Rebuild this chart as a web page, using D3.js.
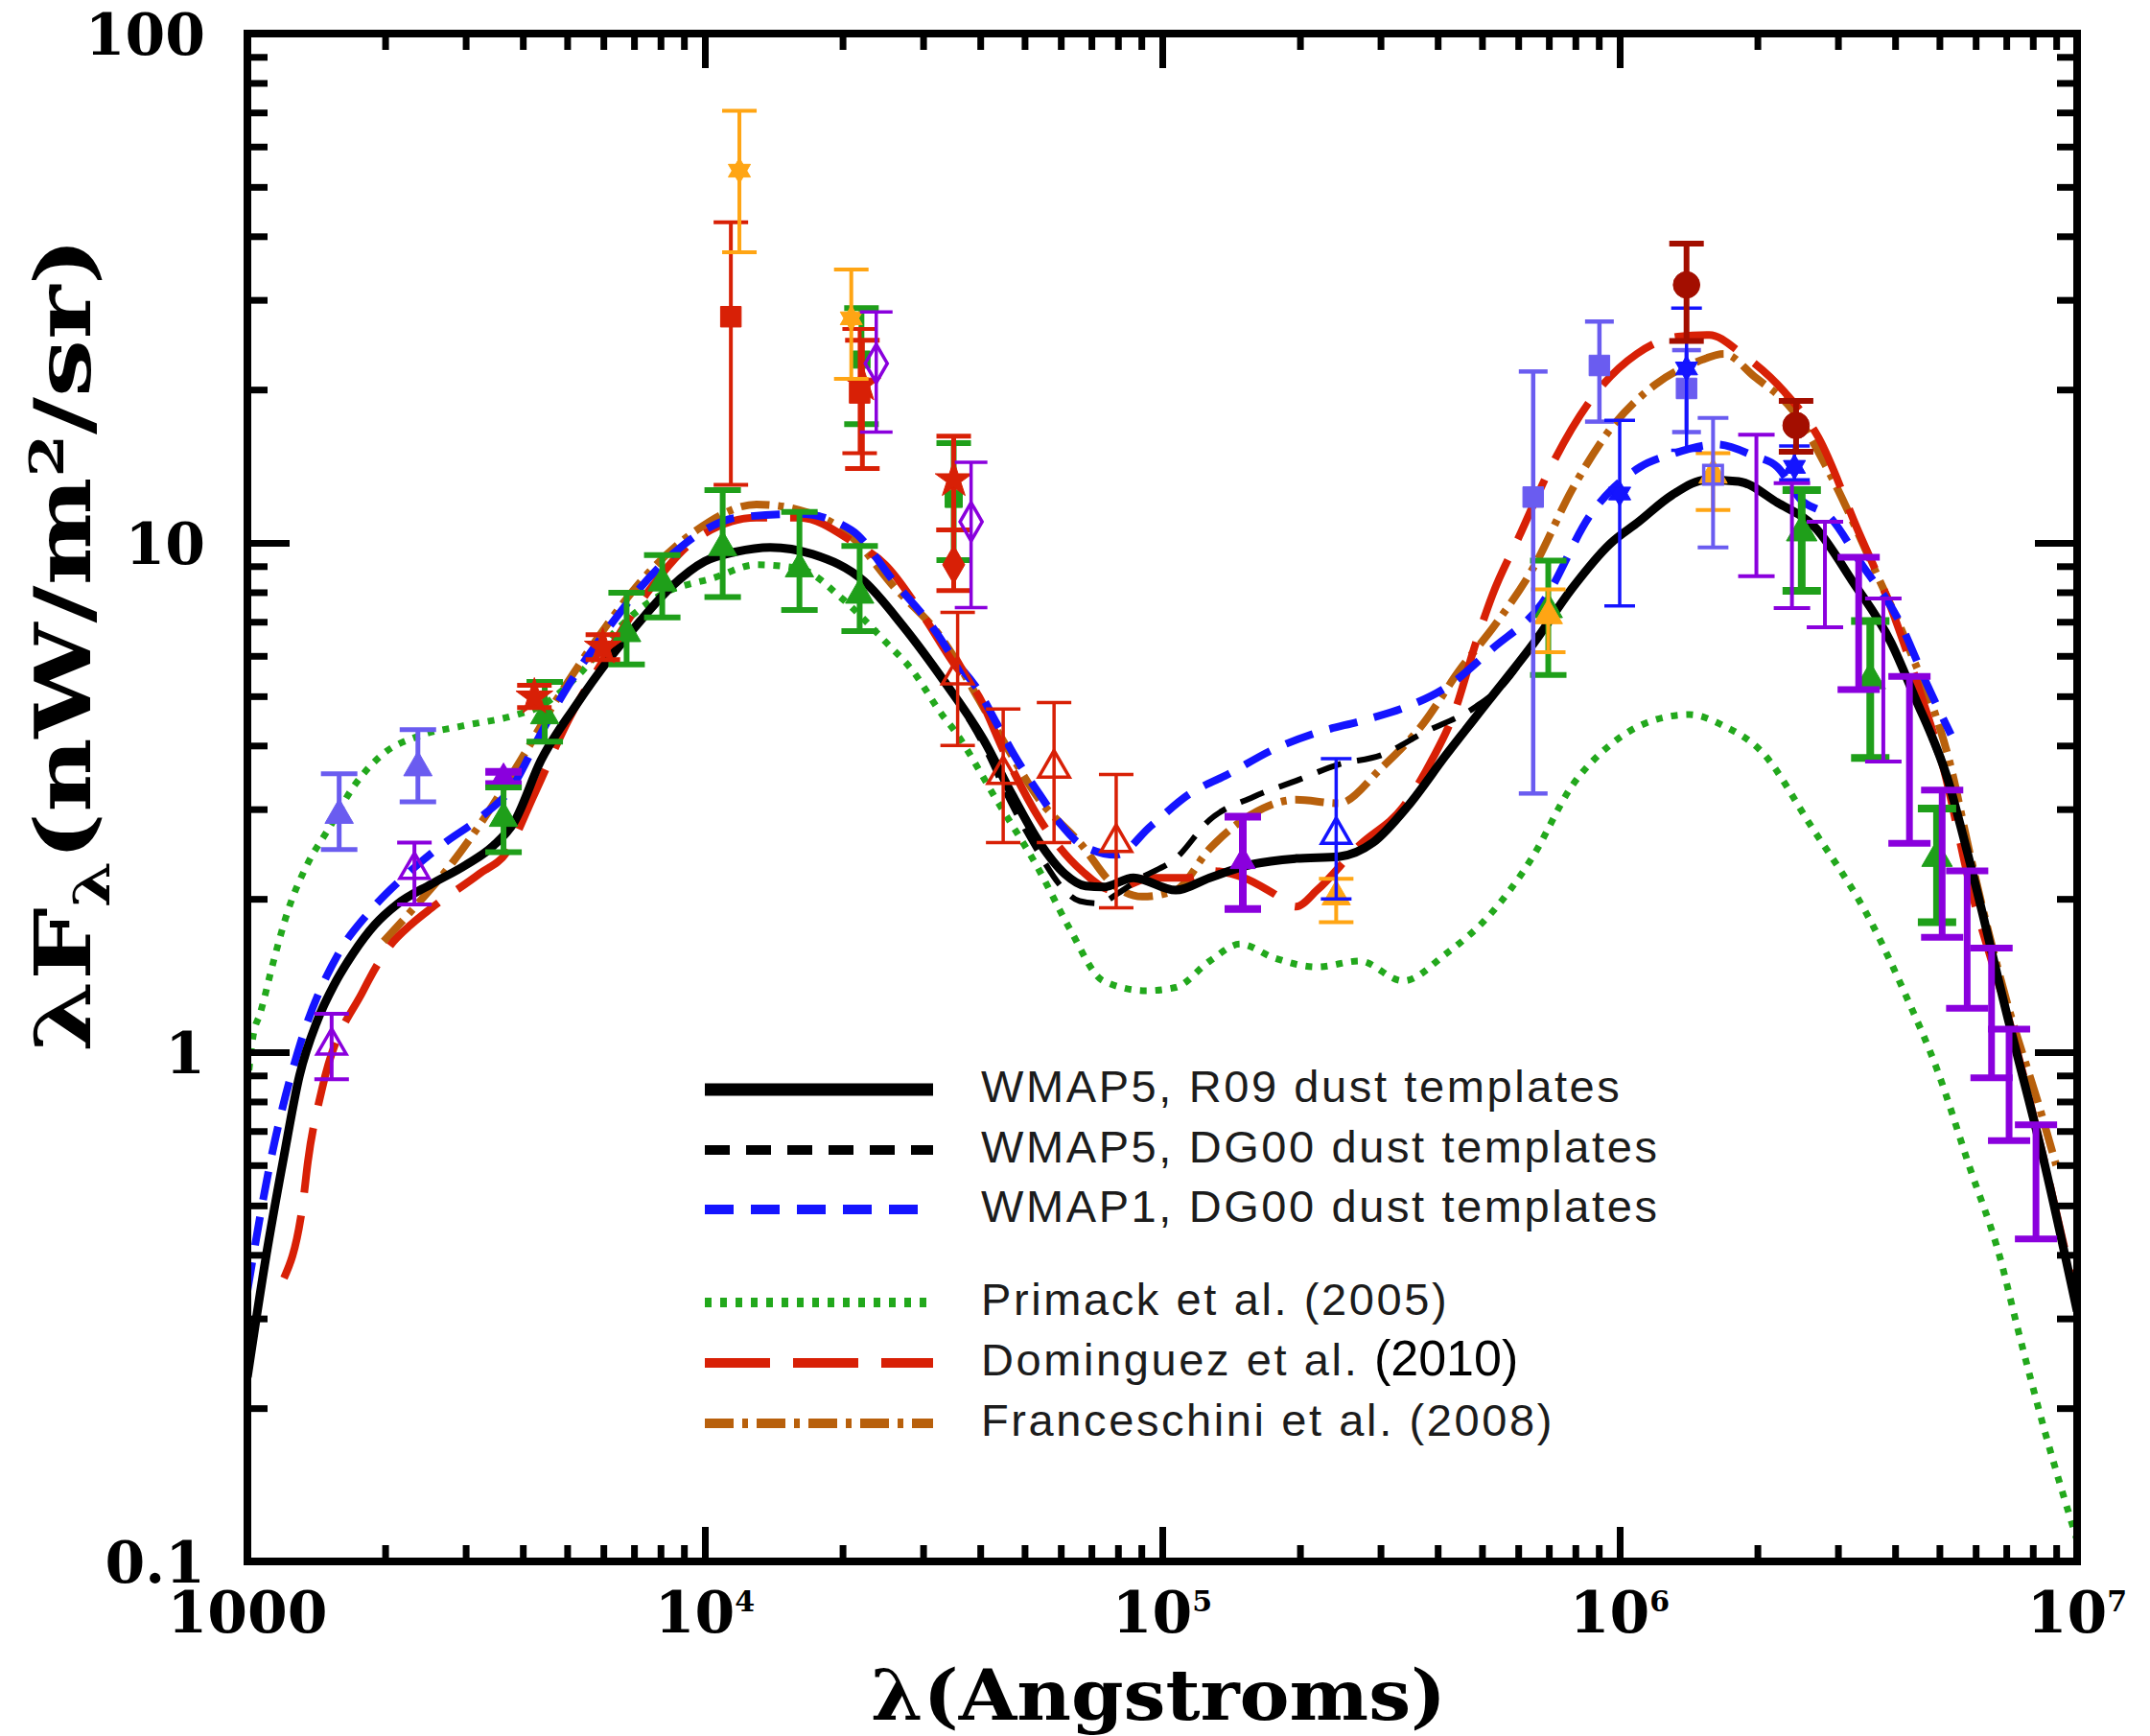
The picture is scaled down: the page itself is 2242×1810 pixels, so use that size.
<!DOCTYPE html>
<html><head><meta charset="utf-8">
<script src="https://cdn.jsdelivr.net/npm/d3@7"></script>
<style>body{margin:0;background:#fff} svg{display:block}</style>
</head><body>
<svg id="c" width="2242" height="1810"></svg>
<script>
// ---------------- DATA ----------------
const X_MAJOR = [1000, 1e4, 1e5, 1e6, 1e7];
const X_LABELS = [["1000",""],["10","4"],["10","5"],["10","6"],["10","7"]];
const Y_MAJOR = [0.1, 1, 10, 100];
const Y_LABELS = ["0.1","1","10","100"];

// model curves: [lambda (Angstrom), lambda*F_lambda (nW/m^2/sr)]
const wmap5R09 = [[1000,0.23],[1100,0.40],[1200,0.62],[1300,0.90],[1420,1.15],[1550,1.36],[1700,1.56],[1900,1.78],[2123,1.95],[2528,2.14],[3000,2.33],[3445,2.54],[3830,2.83],[4383,3.74],[5213,4.78],[6200,5.94],[7200,7.0],[8450,8.2],[10000,9.2],[11670,9.6],[13900,9.8],[17200,9.5],[22300,8.4],[27000,6.9],[33600,5.3],[40700,4.1],[47000,3.2],[53900,2.58],[61200,2.24],[68000,2.12],[74300,2.11],[86500,2.20],[107000,2.08],[127000,2.20],[158000,2.34],[196000,2.40],[243000,2.42],[289000,2.58],[343000,3.03],[417000,3.83],[517000,4.90],[650000,6.37],[786000,8.13],[953000,9.96],[1.1e6,11.0],[1.3e6,12.4],[1.55e6,13.3],[1.82e6,13.2],[2.21e6,12.0],[2.68e6,10.7],[3.23e6,8.4],[3.92e6,6.37],[4.4e6,5.02],[5.21e6,3.44],[5.8e6,2.4],[7e6,1.2],[8.5e6,0.6],[1e7,0.31]];
const wmap5DG00 = [[1000,0.23],[1100,0.40],[1200,0.62],[1300,0.90],[1420,1.15],[1550,1.36],[1700,1.56],[1900,1.78],[2123,1.95],[2528,2.14],[3000,2.33],[3445,2.54],[3830,2.83],[4383,3.74],[5213,4.78],[6200,5.94],[7200,7.0],[8450,8.2],[10000,9.2],[11670,9.6],[13900,9.8],[17200,9.5],[22300,8.4],[27000,6.9],[33600,5.3],[40700,4.0],[47000,3.05],[53900,2.45],[60000,2.12],[66000,1.98],[72800,1.96],[80000,2.05],[90000,2.2],[107000,2.40],[127000,2.86],[158000,3.17],[196000,3.41],[243000,3.67],[301000,3.83],[373000,4.24],[485000,4.77],[560000,5.3],[650000,6.37],[786000,8.13],[953000,9.96],[1.1e6,11.0],[1.3e6,12.4],[1.55e6,13.3],[1.82e6,13.2],[2.21e6,12.0],[2.68e6,10.7],[3.23e6,8.4],[3.92e6,6.37],[4.4e6,5.02],[5.21e6,3.44]];
const wmap1DG00 = [[1000,0.34],[1123,0.61],[1310,1.05],[1587,1.57],[1852,1.89],[2200,2.21],[2706,2.58],[3216,2.88],[3820,3.35],[4310,4.11],[5040,5.26],[6000,6.6],[7000,7.9],[8500,9.5],[10000,10.6],[11670,11.2],[16100,11.4],[20900,10.6],[25900,8.4],[32100,6.66],[35000,5.92],[39800,5.1],[43400,4.43],[47300,3.85],[53900,3.21],[60000,2.8],[66700,2.55],[79300,2.44],[94400,2.78],[114500,3.21],[139000,3.51],[176000,3.94],[218000,4.24],[277000,4.49],[343000,4.77],[417000,5.20],[527000,6.2],[675000,7.59],[866000,11.4],[1.11e6,14.1],[1.29e6,14.9],[1.63e6,15.6],[1.97e6,14.8],[2.21e6,14.1],[2.48e6,12.2],[2.89e6,11.2],[3.36e6,9.15],[4.07e6,7.06],[4.73e6,5.2],[5.3e6,4.2]];
const primack05 = [[1000,0.86],[1030,1.08],[1066,1.19],[1143,1.52],[1225,1.89],[1356,2.35],[1507,2.75],[1702,3.31],[1986,3.86],[2359,4.17],[2952,4.37],[3820,4.58],[4375,4.78],[5394,5.6],[6410,6.74],[8000,7.9],[10470,8.54],[12970,9.06],[16100,8.9],[20000,7.76],[24800,6.4],[28500,5.6],[33000,4.6],[35000,4.30],[43400,3.13],[53900,2.27],[62700,1.75],[74300,1.38],[92100,1.32],[107000,1.34],[127000,1.51],[148000,1.63],[176000,1.53],[218000,1.47],[270000,1.51],[336000,1.38],[417000,1.56],[517000,1.85],[642000,2.40],[786000,3.33],[953000,4.01],[1.15e6,4.44],[1.42e6,4.60],[1.69e6,4.37],[2.05e6,3.88],[2.6e6,2.81],[3.58e6,1.77],[4.21e6,1.30],[4.94e6,0.925],[5.8e6,0.60],[6.81e6,0.39],[7.39e6,0.29],[8.5e6,0.18],[1e7,0.11]];
const dominguez10 = [[1202,0.36],[1324,0.51],[1356,0.61],[1455,0.845],[1791,1.32],[2052,1.62],[2278,1.78],[2528,1.92],[3216,2.24],[3690,2.47],[4240,3.21],[5040,4.50],[5980,5.86],[7500,8.0],[9610,10.2],[12970,11.2],[16100,11.2],[21300,9.98],[24800,9.06],[30000,7.2],[35000,5.8],[39800,4.98],[45000,3.9],[53900,2.87],[66700,2.27],[77800,2.08],[94400,2.20],[114500,2.20],[127000,2.27],[151000,2.20],[175000,2.05],[196000,1.93],[218000,2.08],[270000,2.55],[336000,3.03],[390000,3.77],[434000,4.62],[485000,6.37],[527000,7.9],[603000,10.3],[713000,14.3],[865000,19.1],[1.09e6,23.5],[1.34e6,25.4],[1.57e6,25.6],[1.85e6,23.5],[2.29e6,19.8],[2.72e6,16.1],[3.3e6,10.7],[3.92e6,7.45],[4.56e6,5.02],[5.12e6,3.57],[5.8e6,2.17],[7.13e6,1.14],[8.8e6,0.53],[1e7,0.32]];
const franceschini08 = [[1986,1.65],[2278,1.89],[2800,2.35],[3327,2.92],[3955,3.74],[4700,4.86],[5770,6.42],[7500,8.7],[9610,10.6],[12970,11.9],[16100,11.6],[20900,10.3],[25900,8.2],[32100,6.7],[43400,4.30],[53900,3.13],[66700,2.55],[77800,2.14],[90400,2.02],[107000,2.08],[127000,2.51],[158000,2.94],[196000,3.13],[243000,3.08],[301000,3.61],[373000,4.43],[445000,5.6],[537000,6.95],[650000,8.99],[786000,12.7],[953000,16.7],[1.2e6,20.5],[1.48e6,22.7],[1.69e6,23.5],[1.97e6,21.2],[2.39e6,18.2],[2.89e6,13.6],[3.49e6,9.46],[4.24e6,6.37],[5.32e6,3.57],[5.8e6,2.50],[7.03e6,1.25],[8.27e6,0.78],[9e6,0.6]];

// observations: [lambda, value, low, high]
const lavTri      = [[1587,2.92,2.50,3.52],[2359,3.62,3.10,4.30]];
const purTriOpen  = [[1528,1.03,0.885,1.19],[2318,2.28,1.95,2.58]];
const purTri      = [[3630,3.46,3.36,3.55],[150000,2.37,1.91,2.90]];
const greenTri    = [[3630,2.88,2.47,3.31],[4467,4.58,4.07,5.33],[6745,6.64,5.77,7.98],[8070,8.35,7.14,9.46],[10940,9.8,7.83,12.7],[16100,8.9,7.38,11.5],[21800,7.9,6.71,9.86],[698000,7.4,5.5,9.23]];
const greenTriBig = [[2.5e6,10.5,8.05,12.7],[3.53e6,5.38,3.78,7.02],[4.94e6,2.41,1.80,3.01]];
const greenSq     = [[22000,22.9,17.1,28.9],[35000,12.2,9.25,15.7]];
const redStar     = [[4240,4.98,4.75,5.25],[5985,6.24,5.9,6.6],[35000,13.3,10.6,16.2],[22100,20.5,14.0,25.0]];
const redSq       = [[11400,27.8,13.0,42.6],[21800,19.7,15.0,26.3]];
const redDiam     = [[35000,9.06,8.06,10.6]];
const redTriOpen  = [[35700,5.5,4.0,7.3],[44900,3.51,2.58,4.72],[58000,3.61,2.58,4.86],[79300,2.58,1.92,3.51]];
const orangeStar  = [[11900,53.8,37.2,70.5],[20900,27.6,21.0,34.4]];
const orangeTri   = [[240000,2.02,1.80,2.19],[698000,7.2,6.1,8.1],[1.6e6,13.6,11.6,15.0]];
const purDiamOpen = [[23700,22.5,16.5,28.4],[38200,11.0,7.46,14.4]];
const blueTriOpen = [[240000,2.67,2.0,3.77]];
const lavSq       = [[647000,12.3,3.22,21.7],[903000,22.3,17.3,27.2],[1.4e6,20.1,16.5,23.9]];
const lavSqOpen   = [[1.6e6,13.6,9.8,17.6]];
const blueStar    = [[1.0e6,12.5,7.52,17.4],[1.4e6,22.0,15.2,28.9],[2.41e6,14.1,13.3,15.5]];
const darkRedDot  = [[1.4e6,32.1,24.9,38.7],[2.43e6,17.0,15.1,19.0]];
const purBarThin  = [[1.99e6,11.8,8.6,16.3],[2.38e6,9.8,7.45,13.1],[2.81e6,8.7,6.83,11.0],[3.77e6,5.4,3.72,7.78]];
const purBarThick = [[3.33e6,7.0,5.15,9.37],[4.30e6,3.7,2.57,5.47],[5.07e6,2.3,1.68,3.27],[5.75e6,1.65,1.22,2.27],[6.50e6,1.2,0.89,1.60],[7.1e6,0.86,0.67,1.11],[8.13e6,0.56,0.43,0.72]];

const LEGEND = [
  ["wmap5R09", "WMAP5, R09 dust templates"],
  ["wmap5DG00","WMAP5, DG00 dust templates"],
  ["wmap1DG00","WMAP1, DG00 dust templates"],
  ["primack05","Primack et al. (2005)"],
  ["dominguez10","Dominguez et al. "],
  ["franceschini08","Franceschini et al. (2008)"]
];

// ---------------- STYLES ----------------
const C = {lav:'#6a5cf0', pur:'#8a00dd', green:'#1f9f1a', red:'#d82006', orange:'#ffa514', blue:'#1414ff', dred:'#a30e00', brown:'#b8600c'};
const curveStyle = {
  wmap5R09:      {data: wmap5R09, color:'#000', w:9, dash:null},
  wmap5DG00:     {data: wmap5DG00, color:'#000', w:6, dash:'26,17'},
  wmap1DG00:     {data: wmap1DG00, color:C.blue, w:8, dash:'30,18'},
  primack05:     {data: primack05, color:'#22a81c', w:7, dash:'7,9'},
  dominguez10:   {data: dominguez10, color:C.red, w:8, dash:'68,24'},
  franceschini08:{data: franceschini08, color:C.brown, w:8, dash:'30,9,6,9'}
};
const obsStyle = [
  {data: lavTri, color:C.lav, m:'tri', fill:true, sw:5, cap:38, size:380},
  {data: purTriOpen, color:C.pur, m:'tri', fill:false, sw:4, cap:36, size:400},
  {data: purTri, color:C.pur, m:'tri', fill:true, sw:8, cap:38, size:300},
  {data: greenTri, color:C.green, m:'tri', fill:true, sw:6, cap:38, size:380},
  {data: greenTriBig, color:C.green, m:'tri', fill:true, sw:8, cap:40, size:440},
  {data: greenSq, color:C.green, m:'sq', fill:true, sw:6, cap:36, size:320},
  {data: redStar, color:C.red, m:'star', fill:true, sw:5, cap:36, size:460},
  {data: redSq, color:C.red, m:'sq', fill:true, sw:4, cap:36, size:460},
  {data: redDiam, color:C.red, m:'diam', fill:true, sw:5, cap:36, size:460},
  {data: redTriOpen, color:C.red, m:'tri', fill:false, sw:3.5, cap:36, size:440},
  {data: orangeStar, color:C.orange, m:'hex', fill:true, sw:4, cap:36, size:460},
  {data: orangeTri, color:C.orange, m:'tri', fill:true, sw:4, cap:36, size:380},
  {data: purDiamOpen, color:C.pur, m:'diam', fill:false, sw:3.5, cap:34, size:460},
  {data: blueTriOpen, color:C.blue, m:'tri', fill:false, sw:3.5, cap:32, size:400},
  {data: lavSq, color:C.lav, m:'sq', fill:true, sw:4.5, cap:30, size:460},
  {data: lavSqOpen, color:C.lav, m:'sq', fill:false, sw:4, cap:32, size:380},
  {data: blueStar, color:C.blue, m:'hex', fill:true, sw:3.5, cap:32, size:460},
  {data: darkRedDot, color:C.dred, m:'circle', fill:true, sw:6, cap:36, size:600},
  {data: purBarThin, color:C.pur, m:null, sw:4, cap:38},
  {data: purBarThick, color:C.pur, m:null, sw:7, cap:44}
];

// ---------------- CHART ----------------
const svg = d3.select('#c');
const L=258, R=2166, T=35, B=1628;
const x = d3.scaleLog().domain([1000,1e7]).range([L,R]);
const y = d3.scaleLog().domain([0.1,100]).range([B,T]);
const isDecade = v => Math.abs(Math.log10(v)-Math.round(Math.log10(v)))<1e-9;
const xMinor = x.ticks().filter(v=>!isDecade(v));
const yMinor = y.ticks().filter(v=>!isDecade(v));

svg.append('rect').attr('width',2242).attr('height',1810).attr('fill','#fff');
svg.append('defs').append('clipPath').attr('id','clip').append('rect')
  .attr('x',L).attr('y',T).attr('width',R-L).attr('height',B-T);

const plot = svg.append('g').attr('clip-path','url(#clip)');
const line = d3.line().x(d=>x(d[0])).y(d=>y(d[1])).curve(d3.curveMonotoneX);

const drawOrder = ['primack05','franceschini08','dominguez10','wmap1DG00','wmap5DG00','wmap5R09'];
drawOrder.forEach(k=>{
  const s = curveStyle[k];
  plot.append('path').attr('d',line(s.data)).attr('fill','none')
    .attr('stroke',s.color).attr('stroke-width',s.w)
    .attr('stroke-dasharray',s.dash).attr('stroke-linejoin','round');
});

const hexagram = { draw(ctx,size){ const r=Math.sqrt(size)*0.62;
  [-Math.PI/2, Math.PI/2].forEach(rot=>{ for(let i=0;i<3;i++){ const a=rot+i*2*Math.PI/3;
    const px=r*Math.cos(a), py=r*Math.sin(a); if(i===0) ctx.moveTo(px,py); else ctx.lineTo(px,py);} ctx.closePath(); }); } };
const symType = {tri:d3.symbolTriangle, sq:d3.symbolSquare, circle:d3.symbolCircle, diam:d3.symbolDiamond, star:d3.symbolStar, hex:hexagram};

obsStyle.forEach(s=>{
  const g = plot.append('g').attr('stroke',s.color).attr('stroke-width',s.sw);
  s.data.forEach(d=>{
    const cx = x(d[0]), y0 = y(d[2]), y1 = y(d[3]);
    g.append('line').attr('x1',cx).attr('x2',cx).attr('y1',y0).attr('y2',y1);
    g.append('line').attr('x1',cx-s.cap/2).attr('x2',cx+s.cap/2).attr('y1',y0).attr('y2',y0);
    g.append('line').attr('x1',cx-s.cap/2).attr('x2',cx+s.cap/2).attr('y1',y1).attr('y2',y1);
    if (s.m){
      g.append('path').attr('transform',`translate(${cx},${y(d[1])})`)
        .attr('d', d3.symbol().type(symType[s.m]).size(s.size)())
        .attr('fill', s.fill ? s.color : 'none')
        .attr('stroke-width', s.fill ? 1 : 3.5);
    }
  });
});

// axes (ticks inward, all four sides)
function axisG(fn, scale, vals, size, tr){
  const g = svg.append('g').attr('transform',tr)
    .call(fn(scale).tickValues(vals).tickSize(size).tickFormat(''));
  g.select('.domain').remove();
  g.selectAll('.tick line').attr('stroke','#000').attr('stroke-width',7);
}
axisG(d3.axisBottom, x, X_MAJOR, -36, `translate(0,${B})`);
axisG(d3.axisBottom, x, xMinor, -17, `translate(0,${B})`);
axisG(d3.axisTop, x, X_MAJOR, -36, `translate(0,${T})`);
axisG(d3.axisTop, x, xMinor, -17, `translate(0,${T})`);
axisG(d3.axisLeft, y, Y_MAJOR, -44, `translate(${L},0)`);
axisG(d3.axisLeft, y, yMinor, -21, `translate(${L},0)`);
axisG(d3.axisRight, y, Y_MAJOR, -44, `translate(${R},0)`);
axisG(d3.axisRight, y, yMinor, -21, `translate(${R},0)`);
svg.append('rect').attr('x',L).attr('y',T).attr('width',R-L).attr('height',B-T)
  .attr('fill','none').attr('stroke','#000').attr('stroke-width',8);

const serif = "'DejaVu Serif', serif";
// y tick labels
Y_MAJOR.forEach((v,i)=>{
  svg.append('text').attr('x',214).attr('y',y(v)+22).attr('text-anchor','end')
    .attr('font-family',serif).attr('font-weight','bold').attr('font-size',60).text(Y_LABELS[i]);
});
// x tick labels
X_MAJOR.forEach((v,i)=>{
  const t = svg.append('text').attr('x',x(v)).attr('y',1702).attr('text-anchor','middle')
    .attr('font-family',serif).attr('font-weight','bold').attr('font-size',60);
  t.append('tspan').text(X_LABELS[i][0]);
  if (X_LABELS[i][1]) t.append('tspan').attr('dy',-22).attr('font-size',30).text(X_LABELS[i][1]);
});
// axis titles
svg.append('text').attr('x',1208).attr('y',1793).attr('text-anchor','middle')
  .attr('font-family',serif).attr('font-weight','bold').attr('font-size',72)
  .attr('textLength',600).attr('lengthAdjust','spacingAndGlyphs').text('λ(Angstroms)');
const yt = svg.append('text').attr('transform','translate(94,672) rotate(-90)').attr('text-anchor','middle')
  .attr('font-family',serif).attr('font-weight','bold').attr('font-size',80)
  .attr('textLength',850).attr('lengthAdjust','spacingAndGlyphs');
yt.append('tspan').text('λF');
yt.append('tspan').attr('dy',20).attr('font-size',52).text('λ');
yt.append('tspan').attr('dy',-20).text('(nW/m');
yt.append('tspan').attr('dy',-28).attr('font-size',48).text('2');
yt.append('tspan').attr('dy',28).text('/sr)');

// legend
const legRows = [1136,1199,1261,1358,1421,1484];
const sans = "'Liberation Sans', Arial, sans-serif";
LEGEND.forEach((e,i)=>{
  const s = curveStyle[e[0]];
  const yy = legRows[i];
  svg.append('line').attr('x1',735).attr('x2',973).attr('y1',yy).attr('y2',yy)
    .attr('stroke',s.color).attr('stroke-width', i===0?13:10).attr('stroke-dasharray',s.dash);
  const t = svg.append('text').attr('x',1023).attr('y',yy+13).attr('font-family',sans)
    .attr('font-size',47).attr('letter-spacing',2.6).attr('fill','#1c1c1c').text(e[1]);
  if (e[0]==='dominguez10') t.append('tspan').attr('font-size',52).attr('letter-spacing',0).attr('fill','#000').text('(2010)');
});
</script></body></html>
